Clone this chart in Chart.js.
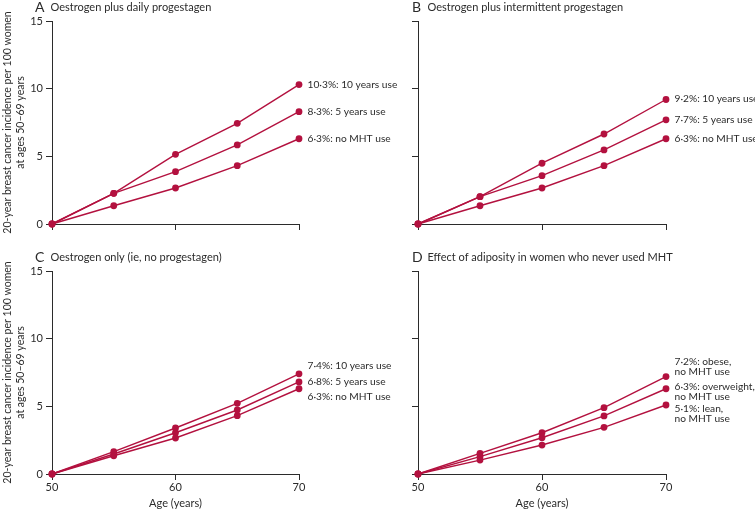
<!DOCTYPE html>
<html>
<head>
<meta charset="utf-8">
<script src="https://cdn.jsdelivr.net/npm/chart.js@4/dist/chart.umd.min.js"></script>
<style>
    body { margin: 0; background: #fff; width: 755px; height: 510px; position: relative; overflow: hidden; }
    canvas { position: absolute; }
</style>
</head>
<body>
<canvas id="panelA" width="410" height="250" style="left:0;top:0"></canvas>
<canvas id="panelB" width="378" height="250" style="left:377px;top:0"></canvas>
<canvas id="panelC" width="410" height="260" style="left:0;top:250px"></canvas>
<canvas id="panelD" width="378" height="260" style="left:377px;top:250px"></canvas>
<script>
// ages on the x axis
const ages = [50, 55, 60, 65, 70];

// A: oestrogen plus daily progestagen
const dailyTenYears = [0, 2.27, 5.15, 7.44, 10.3];
const dailyFiveYears = [0, 2.27, 3.87, 5.84, 8.3];
// shared never-users curve
const noMhtUse = [0, 1.35, 2.66, 4.31, 6.3];

// B: oestrogen plus intermittent progestagen
const intermittentTenYears = [0, 2.02, 4.49, 6.65, 9.2];
const intermittentFiveYears = [0, 2.02, 3.57, 5.47, 7.7];

// C: oestrogen only
const oestrogenTenYears = [0, 1.65, 3.40, 5.22, 7.4];
const oestrogenFiveYears = [0, 1.48, 3.05, 4.73, 6.8];

// D: adiposity, never users
const obese = [0, 1.53, 3.05, 4.90, 7.2];
const overweight = [0, 1.28, 2.68, 4.29, 6.3];
const lean = [0, 1.03, 2.14, 3.45, 5.1];

const yTickStep = 5;
const yMax = 15;

const lineColor = '#b3113f';
const inkColor = '#2b2b2b';
const fontFamily = 'Lato, "Open Sans", sans-serif';

function points(values) {
    return values.map((v, i) => ({ x: ages[i], y: v }));
}

function series(values) {
    return {
        data: points(values),
        borderColor: lineColor,
        backgroundColor: lineColor,
        borderWidth: 1.4,
        pointRadius: 3.4,
        pointHoverRadius: 3.4,
        pointBorderWidth: 0,
        tension: 0,
        clip: false
    };
}

// letter + heading above each panel
const panelHeading = {
    id: 'panelHeading',
    afterDraw(chart, args, opts) {
        const ctx = chart.ctx;
        ctx.save();
        ctx.fillStyle = inkColor;
        ctx.textBaseline = 'middle';
        ctx.textAlign = 'left';
        ctx.font = '14px ' + fontFamily;
        ctx.fillText(opts.letter, 35, 7);
        ctx.font = '11px ' + fontFamily;
        ctx.fillText(opts.text, 50.5, 7);
        ctx.restore();
    }
};

// text next to the last point of each line
const endLabels = {
    id: 'endLabels',
    afterDatasetsDraw(chart, args, opts) {
        const ctx = chart.ctx;
        ctx.save();
        ctx.fillStyle = inkColor;
        ctx.textBaseline = 'middle';
        ctx.textAlign = 'left';
        ctx.font = '10.2px ' + fontFamily;
        opts.labels.forEach((lines, i) => {
            const meta = chart.getDatasetMeta(i);
            const last = meta.data[meta.data.length - 1];
            const lineH = 10;
            const top = last.y + opts.offsets[i] - (lines.length - 1) * lineH / 2;
            lines.forEach((t, j) => ctx.fillText(t, last.x + 8.5, top + j * lineH));
        });
        ctx.restore();
    }
};

function makePanel(id, cfg) {
    new Chart(document.getElementById(id), {
        type: 'line',
        data: { datasets: cfg.values.map(series) },
        plugins: [panelHeading, endLabels],
        options: {
            responsive: false,
            animation: false,
            events: [],
            layout: { padding: { top: 21, right: cfg.rightPad, bottom: 0, left: 0 } },
            scales: {
                x: {
                    type: 'linear',
                    min: 50,
                    max: 70,
                    afterFit: (scale) => { scale.height = cfg.bottomRow ? 36 : 26; },
                    border: { display: true, color: inkColor, width: 1 },
                    grid: { drawOnChartArea: false, drawTicks: true, tickLength: 6, color: inkColor },
                    ticks: {
                        display: cfg.bottomRow,
                        stepSize: 10,
                        padding: 1,
                        color: inkColor,
                        font: { family: fontFamily, size: 11 }
                    },
                    title: {
                        display: cfg.bottomRow,
                        text: 'Age (years)',
                        color: inkColor,
                        padding: { top: 0, bottom: 0 },
                        font: { family: fontFamily, size: 11, lineHeight: 1.1 }
                    }
                },
                y: {
                    min: 0,
                    max: yMax,
                    afterFit: (scale) => { scale.width = cfg.leftCol ? 52 : 41; },
                    border: { display: true, color: inkColor, width: 1 },
                    grid: { drawOnChartArea: false, drawTicks: true, tickLength: 6, color: inkColor },
                    ticks: {
                        display: cfg.leftCol,
                        stepSize: yTickStep,
                        padding: 3,
                        color: inkColor,
                        font: { family: fontFamily, size: 11 }
                    },
                    title: {
                        display: cfg.leftCol,
                        text: ['20-year breast cancer incidence per 100 women', 'at ages 50–69 years'],
                        color: inkColor,
                        padding: { top: 2, bottom: 0 },
                        font: { family: fontFamily, size: 10.5, lineHeight: 1.15 }
                    }
                }
            },
            plugins: {
                legend: { display: false },
                tooltip: { enabled: false },
                panelHeading: { letter: cfg.letter, text: cfg.heading },
                endLabels: { labels: cfg.labels, offsets: cfg.offsets }
            }
        }
    });
}

makePanel('panelA', {
    letter: 'A', heading: 'Oestrogen plus daily progestagen',
    leftCol: true, bottomRow: false, rightPad: 111,
    values: [dailyTenYears, dailyFiveYears, noMhtUse],
    labels: [['10·3%: 10 years use'], ['8·3%: 5 years use'], ['6·3%: no MHT use']],
    offsets: [0, 0, 0]
});

makePanel('panelB', {
    letter: 'B', heading: 'Oestrogen plus intermittent progestagen',
    leftCol: false, bottomRow: false, rightPad: 89,
    values: [intermittentTenYears, intermittentFiveYears, noMhtUse],
    labels: [['9·2%: 10 years use'], ['7·7%: 5 years use'], ['6·3%: no MHT use']],
    offsets: [-1, 0, 0]
});

makePanel('panelC', {
    letter: 'C', heading: 'Oestrogen only (ie, no progestagen)',
    leftCol: true, bottomRow: true, rightPad: 111,
    values: [oestrogenTenYears, oestrogenFiveYears, noMhtUse],
    labels: [['7·4%: 10 years use'], ['6·8%: 5 years use'], ['6·3%: no MHT use']],
    offsets: [-8, 0, 8]
});

makePanel('panelD', {
    letter: 'D', heading: 'Effect of adiposity in women who never used MHT',
    leftCol: false, bottomRow: true, rightPad: 89,
    values: [obese, overweight, lean],
    labels: [['7·2%: obese,', 'no MHT use'], ['6·3%: overweight,', 'no MHT use'], ['5·1%: lean,', 'no MHT use']],
    offsets: [-9.5, 2.5, 9]
});
</script>
</body>
</html>
